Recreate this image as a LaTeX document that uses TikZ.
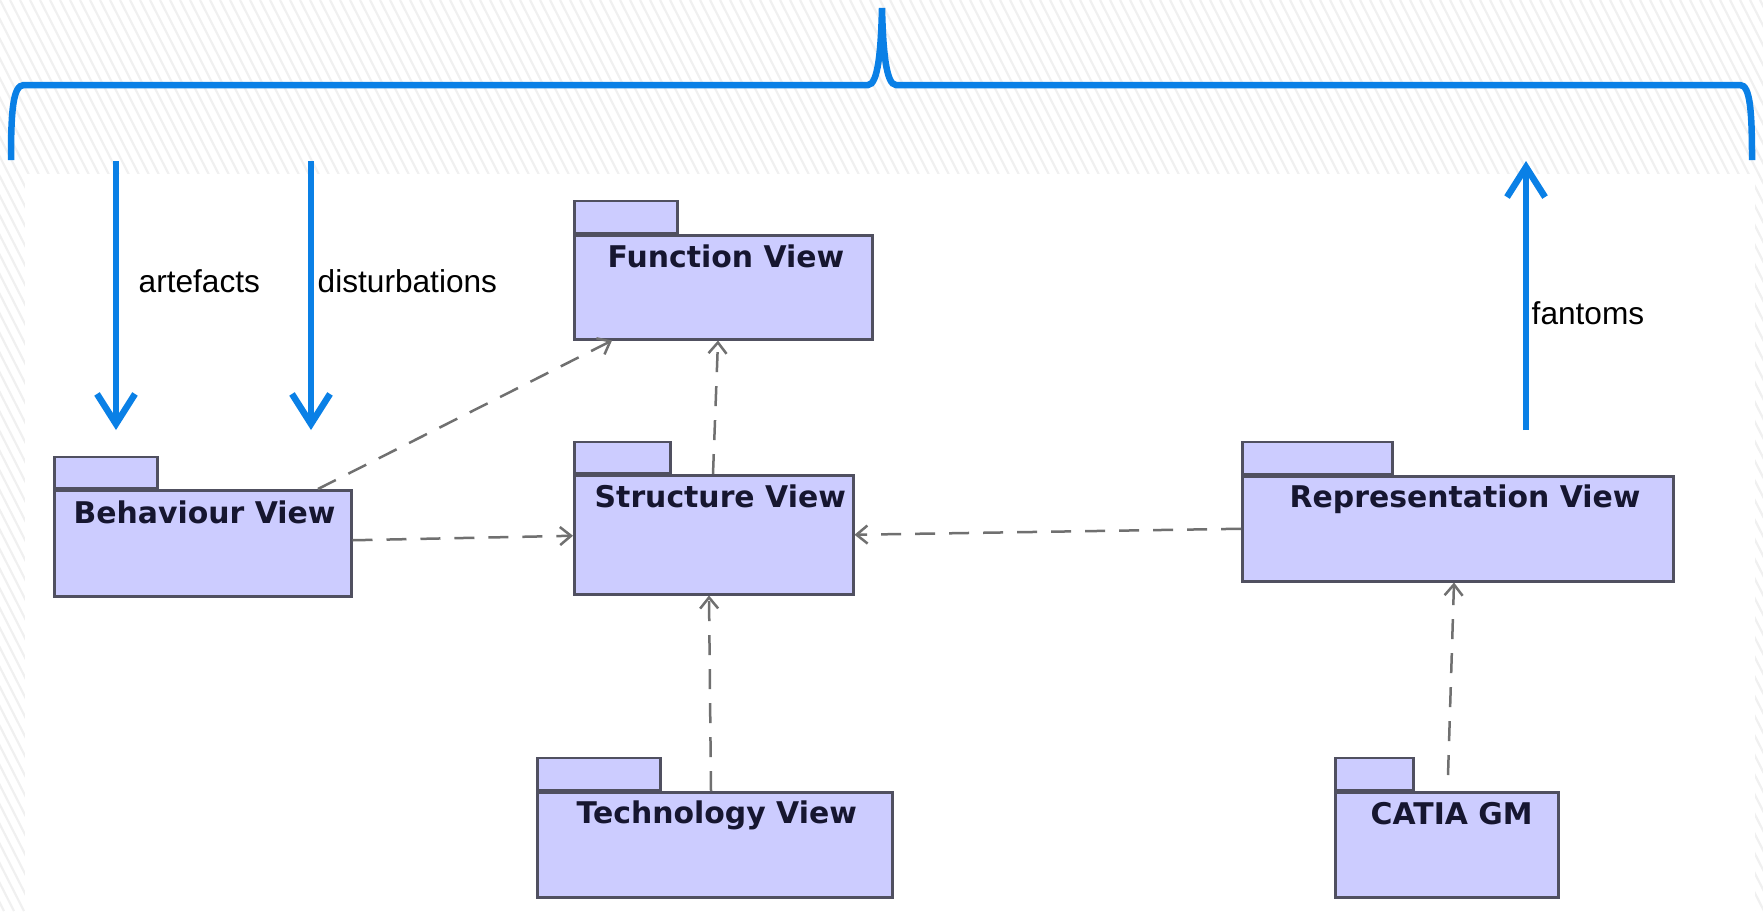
\documentclass[tikz,border=0pt]{standalone}
\usepackage{fontspec}
\setmainfont{Liberation Sans}
\newfontfamily\pkgfont{DejaVu Sans}
\usetikzlibrary{arrows.meta}
\definecolor{braceblue}{RGB}{10,128,230}
\definecolor{pkgfill}{RGB}{204,204,255}
\definecolor{pkgline}{RGB}{80,80,96}
\definecolor{pkgtext}{RGB}{22,22,48}
\definecolor{depgray}{RGB}{112,112,112}
\definecolor{hatchgray}{RGB}{240,240,240}
\tikzset{
  pkgbody/.style={draw=pkgline, fill=pkgfill, line width=0.25mm, inner sep=0pt, anchor=north west},
  pkgtab/.style={draw=pkgline, fill=pkgfill, line width=0.25mm, inner sep=0pt, anchor=south west},
  pkglabel/.style={anchor=base west, inner sep=0pt, text=pkgtext, font=\pkgfont\bfseries\fontsize{8.5pt}{10pt}\selectfont},
  dep/.style={draw=depgray, line width=0.25mm, dash pattern=on 2mm off 1.4mm, -{Straight Barb[length=1.1mm,width=1.8mm]}},
  bluearrow/.style={draw=braceblue, line width=0.65mm, -{Straight Barb[length=3mm,width=3.8mm]}},
  bluelabel/.style={anchor=west, inner sep=0pt, font=\fontsize{9pt}{11pt}\selectfont}
}
\begin{document}
\begin{tikzpicture}[x=0.1mm, y=-0.1mm]
\useasboundingbox (0,0) rectangle (1763,911);
% hatched background
\begin{scope}
  \clip (0,0) rectangle (1763,911);
  \foreach \i in {-480,-470,...,1770} {
    \draw[hatchgray, line width=0.22mm] (\i,0) -- (\i+464,911);
  }
\end{scope}
\fill[white] (25,174) rectangle (1755,920);
% brace
\draw[braceblue, line width=0.65mm] (11,160) .. controls (11,110) and (13,85) .. (24,85) -- (868,85) .. controls (878,85) and (881,50) .. (882,8) .. controls (883,50) and (886,85) .. (896,85) -- (1740,85) .. controls (1750,85) and (1752,110) .. (1752,160);
% packages
\node[pkgtab, minimum width=10.3mm, minimum height=3.2mm] (ftab) at (573,234) {};
\node[pkgbody, minimum width=29.8mm, minimum height=10.4mm] (fb) at (573,234) {};
\node[pkglabel] (ft) at (607,267) {Function View};

\node[pkgtab, minimum width=9.6mm, minimum height=3.1mm] (stab) at (573,474) {};
\node[pkgbody, minimum width=27.9mm, minimum height=11.9mm] (sb) at (573,474) {};
\node[pkglabel] (st) at (594,507) {Structure View};

\node[pkgtab, minimum width=10.3mm, minimum height=3.1mm] (btab) at (53,489) {};
\node[pkgbody, minimum width=29.7mm, minimum height=10.6mm] (bb) at (53,489) {};
\node[pkglabel] (bt) at (73,523) {Behaviour View};

\node[pkgtab, minimum width=15mm, minimum height=3.2mm] (rtab) at (1241,475) {};
\node[pkgbody, minimum width=43.1mm, minimum height=10.5mm] (rb) at (1241,475) {};
\node[pkglabel] (rt) at (1289,507) {Representation View};

\node[pkgtab, minimum width=12.3mm, minimum height=3.2mm] (ttab) at (536,791) {};
\node[pkgbody, minimum width=35.5mm, minimum height=10.5mm] (tb) at (536,791) {};
\node[pkglabel] (tt) at (576,823) {Technology View};

\node[pkgtab, minimum width=7.8mm, minimum height=3.2mm] (ctab) at (1334,791) {};
\node[pkgbody, minimum width=22.3mm, minimum height=10.5mm] (cb) at (1334,791) {};
\node[pkglabel] (ct) at (1370,824) {CATIA GM};

% dependencies
\draw[dep] ([xshift=26.5mm]bb.north west) -- ([xshift=3.9mm]fb.south west);
\draw[dep] ([yshift=0.3mm]bb.east) -- ([yshift=-0.1mm]sb.west);
\draw[dep] ([xshift=14mm]sb.north west) -- ([xshift=14.5mm]fb.south west);
\draw[dep] (rb.west) -- (sb.east);
\draw[dep] ([xshift=17.5mm]tb.north west) -- ([xshift=13.6mm]sb.south west);
\coordinate (cstart) at ([xshift=11.4mm,yshift=1.6mm]cb.north west);
\draw[dep] (cstart) -- ([xshift=21.3mm]rb.south west);

% blue arrows
\coordinate (a1s) at (116,161); \coordinate (a1e) at (116,430);
\coordinate (a2s) at (311,161); \coordinate (a2e) at (311,430);
\coordinate (a3s) at (1526,430); \coordinate (a3e) at (1526,161);
\draw[bluearrow] (a1s) -- (a1e);
\draw[bluearrow] (a2s) -- (a2e);
\draw[bluearrow] (a3s) -- (a3e);
\node[bluelabel] (l1) at (138,281) {artefacts};
\node[bluelabel] (l2) at (317,281) {disturbations};
\node[bluelabel] (l3) at (1531,313) {fantoms};
\end{tikzpicture}
\end{document}
